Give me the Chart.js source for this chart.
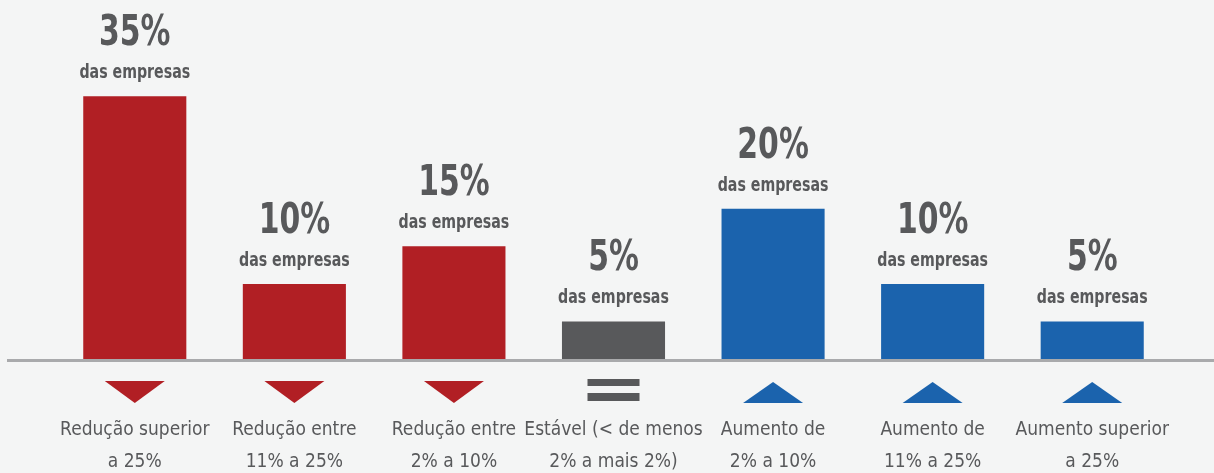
<!DOCTYPE html>
<html>
<head>
<meta charset="utf-8">
<script src="https://cdn.jsdelivr.net/npm/chart.js@4/dist/chart.umd.min.js"></script>
<style>
  body { margin: 0; background: #f4f5f5; }
  #wrap { width: 1214px; height: 473px; position: relative; }
</style>
</head>
<body>
<div id="wrap"><canvas id="chart"></canvas></div>
<script>
// categorias (eixo x) e valores em % das empresas
const categories = [
    ['Redução superior', 'a 25%'],
    ['Redução entre', '11% a 25%'],
    ['Redução entre', '2% a 10%'],
    ['Estável (< de menos', '2% a mais 2%)'],
    ['Aumento de', '2% a 10%'],
    ['Aumento de', '11% a 25%'],
    ['Aumento superior', 'a 25%']
];
const values = [35, 10, 15, 5, 20, 10, 5];
const trend = ['down', 'down', 'down', 'equal', 'up', 'up', 'up'];
const subLabel = 'das empresas';

const RED = '#b11f24';
const GRAY = '#58595b';
const BLUE = '#1b63ad';
const TEXT = '#58595b';
const FONT = "'Liberation Sans Narrow', 'DejaVu Sans Condensed', sans-serif";

const colorFor = t => t === 'down' ? RED : (t === 'up' ? BLUE : GRAY);

// texto "condensado" (fonte estreita não disponível)
function narrowText(ctx, text, x, y, sx) {
    ctx.save();
    ctx.translate(x, y);
    ctx.scale(sx, 1);
    ctx.fillText(text, 0, 0);
    ctx.restore();
}

// rótulos acima das barras + ícones abaixo + linha base
const decorPlugin = {
    id: 'decor',
    afterDatasetsDraw(chart) {
        const ctx = chart.ctx;
        const area = chart.chartArea;
        const xScale = chart.scales.x;
        const meta = chart.getDatasetMeta(0);

        // linha do eixo
        ctx.save();
        ctx.strokeStyle = '#a9aaac';
        ctx.lineWidth = 3;
        ctx.beginPath();
        ctx.moveTo(7, area.bottom + 1.5);
        ctx.lineTo(chart.width, area.bottom + 1.5);
        ctx.stroke();

        meta.data.forEach((bar, i) => {
            const cx = bar.x;
            // valores
            ctx.fillStyle = TEXT;
            ctx.textAlign = 'center';
            ctx.textBaseline = 'alphabetic';
            ctx.font = 'bold 42px ' + FONT;
            narrowText(ctx, values[i] + '%', cx, bar.y - 51, 0.79);
            ctx.font = 'bold 19px ' + FONT;
            narrowText(ctx, subLabel, cx, bar.y - 18, 0.83);

            // ícones
            const x = xScale.getPixelForValue(i);
            const top = area.bottom + 22;
            ctx.fillStyle = colorFor(trend[i]);
            ctx.beginPath();
            if (trend[i] === 'down') {
                ctx.moveTo(x - 30, top);
                ctx.lineTo(x + 30, top);
                ctx.lineTo(x, top + 22);
                ctx.closePath();
                ctx.fill();
            } else if (trend[i] === 'up') {
                ctx.moveTo(x - 30, top + 22);
                ctx.lineTo(x + 30, top + 22);
                ctx.lineTo(x, top + 1);
                ctx.closePath();
                ctx.fill();
            } else {
                ctx.fillRect(x - 26, top - 2, 52, 7);
                ctx.fillRect(x - 26, top + 12, 52, 8);
            }
        });
        ctx.restore();
    }
};

new Chart(document.getElementById('chart'), {
    type: 'bar',
    data: {
        labels: categories,
        datasets: [{
            data: values,
            backgroundColor: trend.map(colorFor),
            borderWidth: 0,
            barPercentage: 0.646,
            categoryPercentage: 1
        }]
    },
    options: {
        responsive: true,
        maintainAspectRatio: false,
        animation: false,
        layout: { padding: { left: 55, right: 42, top: 0, bottom: 0 } },
        plugins: {
            legend: { display: false },
            tooltip: { enabled: false }
        },
        scales: {
            x: {
                grid: { display: false, drawTicks: false },
                border: { display: false },
                ticks: {
                    autoSkip: false,
                    maxRotation: 0,
                    padding: 55,
                    color: TEXT,
                    font: { family: FONT, size: 19, lineHeight: 1.68 }
                },
                afterFit(axis) {
                    axis.height = 114;
                    axis.paddingLeft = 0;
                    axis.paddingRight = 0;
                }
            },
            y: {
                display: false,
                min: 0,
                max: 47.8
            }
        }
    },
    plugins: [decorPlugin]
});
</script>
</body>
</html>
